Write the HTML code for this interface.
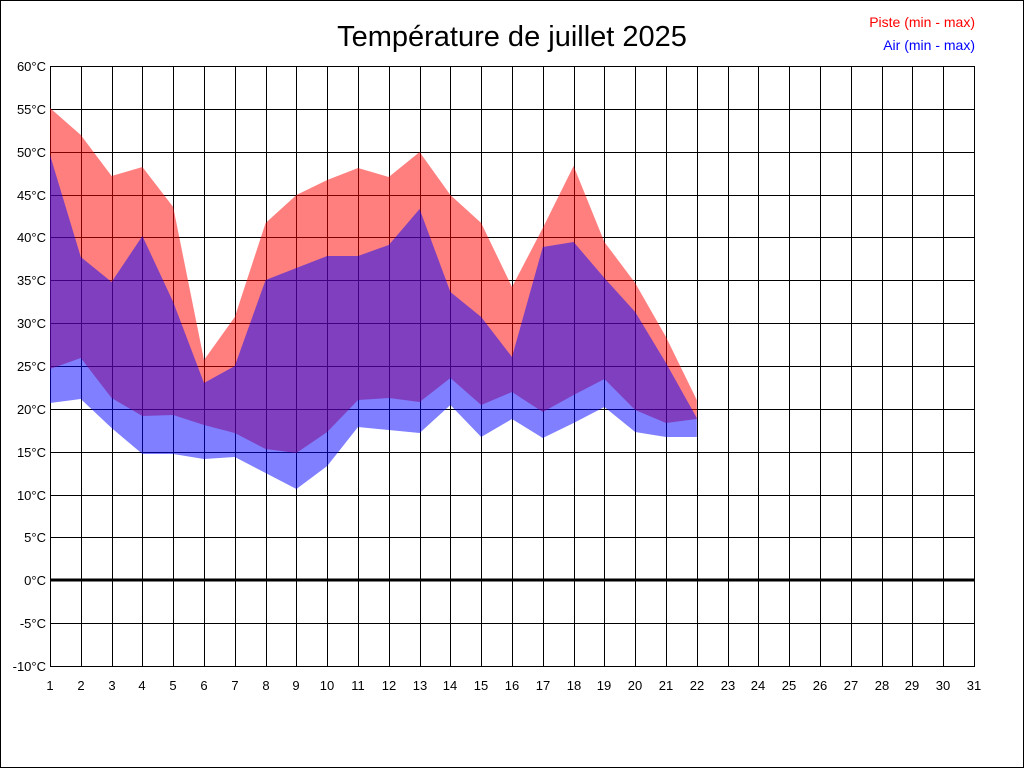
<!DOCTYPE html>
<html><head><meta charset="utf-8"><style>
html,body{margin:0;padding:0;background:#fff}
svg{display:block}
text{font-family:"Liberation Sans",Arial,sans-serif}
</style></head><body>
<svg width="1024" height="768" viewBox="0 0 1024 768" xmlns="http://www.w3.org/2000/svg">
<rect x="0.5" y="0.5" width="1023" height="767" fill="#fff" stroke="#000"/>
<text x="512" y="46" font-size="29" text-anchor="middle">Température de juillet 2025</text>
<text x="975" y="27" font-size="14" fill="#f00" text-anchor="end">Piste (min - max)</text>
<text x="975" y="50" font-size="14" fill="#00f" text-anchor="end">Air (min - max)</text>
<path stroke="#000" stroke-width="1" fill="none" d="M50.5 66V666M81.5 66V666M112.5 66V666M142.5 66V666M173.5 66V666M204.5 66V666M235.5 66V666M266.5 66V666M296.5 66V666M327.5 66V666M358.5 66V666M389.5 66V666M420.5 66V666M450.5 66V666M481.5 66V666M512.5 66V666M543.5 66V666M574.5 66V666M604.5 66V666M635.5 66V666M666.5 66V666M697.5 66V666M728.5 66V666M758.5 66V666M789.5 66V666M820.5 66V666M851.5 66V666M882.5 66V666M912.5 66V666M943.5 66V666M974.5 66V666
M50 66.5H975M50 109.5H975M50 152.5H975M50 195.5H975M50 237.5H975M50 280.5H975M50 323.5H975M50 366.5H975M50 409.5H975M50 452.5H975M50 495.5H975M50 537.5H975M50 623.5H975M50 666.5H975"/>
<g font-size="13" text-anchor="end">
<text x="46" y="71">60°C</text><text x="46" y="114">55°C</text><text x="46" y="157">50°C</text><text x="46" y="200">45°C</text><text x="46" y="242">40°C</text><text x="46" y="285">35°C</text><text x="46" y="328">30°C</text><text x="46" y="371">25°C</text><text x="46" y="414">20°C</text><text x="46" y="457">15°C</text><text x="46" y="500">10°C</text><text x="46" y="542">5°C</text><text x="46" y="585">0°C</text><text x="46" y="628">-5°C</text><text x="46" y="671">-10°C</text>
</g>
<g font-size="13" text-anchor="middle">
<text x="50" y="690">1</text><text x="81" y="690">2</text><text x="112" y="690">3</text><text x="142" y="690">4</text><text x="173" y="690">5</text><text x="204" y="690">6</text><text x="235" y="690">7</text><text x="266" y="690">8</text><text x="296" y="690">9</text><text x="327" y="690">10</text><text x="358" y="690">11</text><text x="389" y="690">12</text><text x="420" y="690">13</text><text x="450" y="690">14</text><text x="481" y="690">15</text><text x="512" y="690">16</text><text x="543" y="690">17</text><text x="574" y="690">18</text><text x="604" y="690">19</text><text x="635" y="690">20</text><text x="666" y="690">21</text><text x="697" y="690">22</text><text x="728" y="690">23</text><text x="758" y="690">24</text><text x="789" y="690">25</text><text x="820" y="690">26</text><text x="851" y="690">27</text><text x="882" y="690">28</text><text x="912" y="690">29</text><text x="943" y="690">30</text><text x="974" y="690">31</text>
</g>
<polygon fill="rgb(255,0,0)" fill-opacity="0.5" points="50,108 80.8,135 111.6,176 142.4,167 173.2,207 204,360 234.8,317 265.6,223 296.4,195 327.2,180 358,168 388.8,177 419.6,152 450.4,195 481.2,223 512,287 542.8,228 573.6,166 604.4,242 635.2,283 666,337 696.8,400 696.8,419 666,423 635.2,410 604.4,379 573.6,395 542.8,412 512,392 481.2,405 450.4,378 419.6,402 388.8,398 358,400 327.2,432 296.4,453 265.6,449 234.8,433 204,425 173.2,415 142.4,416 111.6,398 80.8,358 50,369"/>
<polygon fill="rgb(0,0,255)" fill-opacity="0.5" points="50,155 80.8,257 111.6,282 142.4,236 173.2,302 204,383 234.8,366 265.6,280 296.4,268 327.2,256 358,256 388.8,245 419.6,209 450.4,292 481.2,317 512,357 542.8,247 573.6,242 604.4,278 635.2,312 666,363 696.8,418 696.8,437 666,437 635.2,432 604.4,407 573.6,423 542.8,438 512,419 481.2,437 450.4,405 419.6,433 388.8,430 358,427 327.2,466 296.4,489 265.6,473 234.8,457 204,459 173.2,454 142.4,454 111.6,428 80.8,399 50,403"/>
<line x1="50" y1="580" x2="975" y2="580" stroke="#000" stroke-width="3"/>
</svg>
</body></html>
